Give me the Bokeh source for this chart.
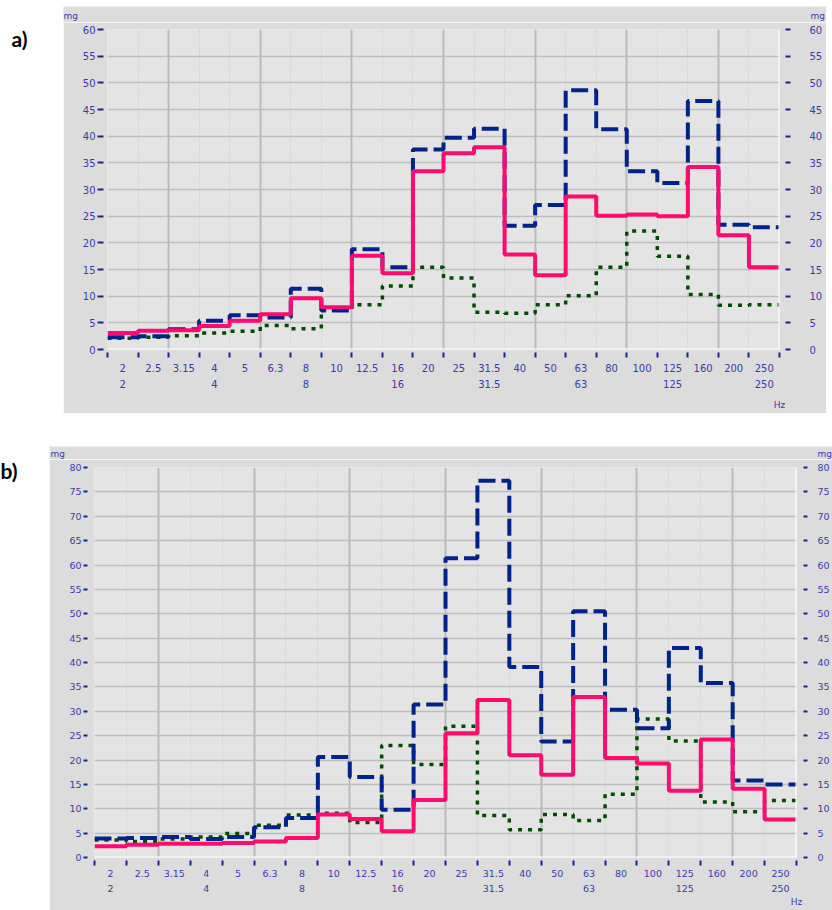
from bokeh.plotting import figure
from bokeh.models import Range1d, FixedTicker, LinearAxis, Label, Span, Grid, Spacer
from bokeh.layouts import row, column
from bokeh.embed import file_html
from bokeh.resources import INLINE

# ---------------- data ----------------
bands = ["2", "2.5", "3.15", "4", "5", "6.3", "8", "10", "12.5", "16", "20",
         "25", "31.5", "40", "50", "63", "80", "100", "125", "160", "200", "250"]
octave_labels = ["2", "4", "8", "16", "31.5", "63", "125", "250"]

a_pink = [3.1, 3.5, 3.6, 4.4, 5.4, 6.6, 9.6, 7.9, 17.6, 14.3, 33.4,
          36.8, 37.9, 17.8, 13.9, 28.7, 25.1, 25.3, 25.0, 34.2, 21.4, 15.4]
a_blue = [2.3, 2.5, 3.8, 5.4, 6.4, 6.0, 11.4, 7.3, 18.8, 15.4, 37.5,
          39.7, 41.4, 23.2, 27.1, 48.6, 41.3, 33.4, 31.2, 46.6, 23.4, 22.9]
a_green = [2.1, 2.3, 2.6, 3.1, 3.4, 4.5, 3.9, 7.5, 8.4, 11.9, 15.4,
           13.4, 7.0, 6.8, 8.4, 10.1, 15.4, 22.2, 17.5, 10.3, 8.3, 8.4]

b_pink = [2.3, 2.6, 2.8, 2.8, 3.0, 3.3, 4.0, 8.8, 7.9, 5.4, 11.8,
          25.5, 32.3, 21.0, 17.0, 32.9, 20.4, 19.3, 13.7, 24.2, 14.1, 7.8]
b_blue = [3.9, 4.0, 4.2, 3.8, 4.2, 6.2, 8.1, 20.6, 16.5, 9.8, 31.4,
          61.4, 77.3, 39.1, 23.8, 50.5, 30.3, 26.5, 43.0, 35.8, 15.8, 15.0]
b_green = [3.6, 3.3, 3.8, 4.2, 4.9, 6.6, 8.7, 9.1, 7.2, 23.0, 19.1,
           26.9, 8.6, 5.7, 8.8, 7.6, 13.0, 28.4, 23.9, 11.4, 9.4, 11.7]

yticks_a = list(range(0, 61, 5))
yticks_b = list(range(0, 81, 5))
unit_y = "mg"
unit_x = "Hz"

# ---------------- style ----------------
PINK = "#ff0a6e"
BLUE = "#00238a"
GREEN = "#004c00"
TEXT = "#3b3bab"
TICK = "#1f1f8f"
OUTER = "#dcdcdc"
FONT = "DejaVu Sans"

n = len(bands)
bounds = [i - 0.5 for i in range(n + 1)]
oct_pos = [bands.index(o) for o in octave_labels]
major_b = [bounds[0]] + [bounds[i - 1] for i in oct_pos if i > 0]
minor_b = [b for b in bounds[:-1] if b not in major_b]


def no_align(fig):
    if "frame_align" in fig.properties():
        fig.frame_align = False


def steps(vals):
    return bounds, list(vals) + [vals[-1]]


def panel(width, height, borders, ymax, yticks, green, blue, pink, fs,
          ltick, rtick, bot):
    p = figure(width=width, height=height,
               x_range=Range1d(bounds[0], bounds[-1]), y_range=Range1d(0, ymax),
               x_axis_type=None, y_axis_type=None, toolbar_location=None,
               output_backend="svg",
               min_border_left=borders[0], min_border_right=borders[1],
               min_border_top=borders[2], min_border_bottom=borders[3])
    no_align(p)
    p.background_fill_color = "#e4e4e4"
    p.border_fill_color = OUTER
    p.outline_line_color = None

    # grids
    xg = Grid(dimension=0, ticker=FixedTicker(ticks=major_b, minor_ticks=minor_b),
              grid_line_color="#bababa", grid_line_width=2,
              minor_grid_line_color="#c6c6c6", minor_grid_line_width=1,
              minor_grid_line_dash="1 2")
    yg = Grid(dimension=1, ticker=FixedTicker(ticks=yticks[1:]),
              grid_line_color="#bdbdbd", grid_line_width=1.5)
    p.add_layout(xg)
    p.add_layout(yg)
    p.add_layout(Span(location=0, dimension="width", line_color="white", line_width=2))
    p.add_layout(Span(location=bounds[-1], dimension="height", line_color="white", line_width=2))

    # y axes
    def yaxis(tin, tout, standoff):
        return LinearAxis(ticker=FixedTicker(ticks=yticks), axis_line_color=None,
                          major_tick_in=tin, major_tick_out=tout,
                          major_tick_line_color=TICK, major_tick_line_width=2,
                          minor_tick_line_color=None, major_label_standoff=standoff,
                          major_label_text_font=FONT, major_label_text_font_size=fs,
                          major_label_text_color=TEXT)
    p.add_layout(yaxis(*ltick), "left")
    p.add_layout(yaxis(*rtick), "right")

    # x axes: band labels + boundary ticks, octave labels, unit
    xa = LinearAxis(ticker=FixedTicker(ticks=list(range(n)), minor_ticks=bounds),
                    axis_line_color=None,
                    major_tick_line_color=None, major_tick_in=0, major_tick_out=bot[0],
                    minor_tick_line_color=TICK, minor_tick_line_width=2,
                    minor_tick_in=-3, minor_tick_out=bot[0],
                    major_label_standoff=bot[1],
                    major_label_overrides={i: b for i, b in enumerate(bands)},
                    major_label_text_font=FONT, major_label_text_font_size=fs,
                    major_label_text_color=TEXT)
    xo = LinearAxis(ticker=FixedTicker(ticks=oct_pos), axis_line_color=None,
                    major_tick_line_color=None, major_tick_in=0, major_tick_out=0,
                    minor_tick_line_color=None, major_label_standoff=bot[2],
                    major_label_overrides={i: o for i, o in zip(oct_pos, octave_labels)},
                    major_label_text_font=FONT, major_label_text_font_size=fs,
                    major_label_text_color=TEXT)
    xu = LinearAxis(ticker=FixedTicker(ticks=[bounds[-1]]), axis_line_color=None,
                    major_tick_line_color=None, major_tick_in=0, major_tick_out=0,
                    minor_tick_line_color=None, major_label_standoff=bot[3],
                    major_label_overrides={bounds[-1]: unit_x},
                    major_label_text_font=FONT, major_label_text_font_size="9px",
                    major_label_text_color=TEXT)
    p.add_layout(xa, "below")
    p.add_layout(xo, "below")
    p.add_layout(xu, "below")

    # series
    x, y = steps(green)
    p.step(x, y, mode="after", line_color=GREEN, line_width=3.5, line_dash="4 6")
    x, y = steps(blue)
    p.step(x, y, mode="after", line_color=BLUE, line_width=4, line_dash="17 6")
    x, y = steps(pink)
    p.step(x, y, mode="after", line_color=PINK, line_width=4)
    return p


def strip(width, height, xl, xr, yc):
    q = figure(width=width, height=height, x_range=Range1d(0, width),
               y_range=Range1d(height, 0), x_axis_type=None, y_axis_type=None,
               toolbar_location=None, output_backend="svg", min_border=0)
    no_align(q)
    q.outline_line_color = None
    q.background_fill_color = OUTER
    q.border_fill_color = OUTER
    for x in (xl, xr):
        q.add_layout(Label(x=x, y=yc, text=unit_y, text_font=FONT, text_font_size="9px",
                           text_color=TEXT, text_baseline="middle", text_align="left"))
    return q


def tag(width, height, text, tx, ty):
    q = figure(width=width, height=height, x_range=Range1d(0, width),
               y_range=Range1d(height, 0), x_axis_type=None, y_axis_type=None,
               toolbar_location=None, output_backend="svg", min_border=0)
    no_align(q)
    q.outline_line_color = None
    q.background_fill_color = "white"
    q.border_fill_color = "white"
    q.add_layout(Label(x=tx, y=ty, text=text, text_font="Lato", text_font_style="bold",
                       text_font_size="21px", text_color="black", text_baseline="middle"))
    return q


# panel a: canvas x 63..826, y 6..413 ; frame x 107..779, y 29..349
pa = panel(763, 391, (44, 47, 7, 64), 60, yticks_a, a_green, a_blue, a_pink, "10px",
           (-4, 10, 2), (-6, 11, 19), (8, 6, 5, 9))
sa = strip(763, 16, 0, 747, 9)
ta = tag(63, 407, "a)", 11, 32)

# panel b: canvas x 49..832, y 446..910 ; frame x 94..798, y 467..857
pb = panel(783, 451, (45, 34, 8, 53), 80, yticks_b, b_green, b_blue, b_pink, "9.5px",
           (-7, 11, 2), (-7, 11, 10), (8, 4, 5, 2))
sb = strip(783, 13, 1, 768, 7)
tb = tag(49, 464, "b)", 0, 24)

layout = column(Spacer(width=832, height=6),
                row(ta, column(row(sa), row(pa))),
                Spacer(width=832, height=33),
                row(tb, column(row(sb), row(pb))))

open("out.html", "w").write(file_html(layout, INLINE))
